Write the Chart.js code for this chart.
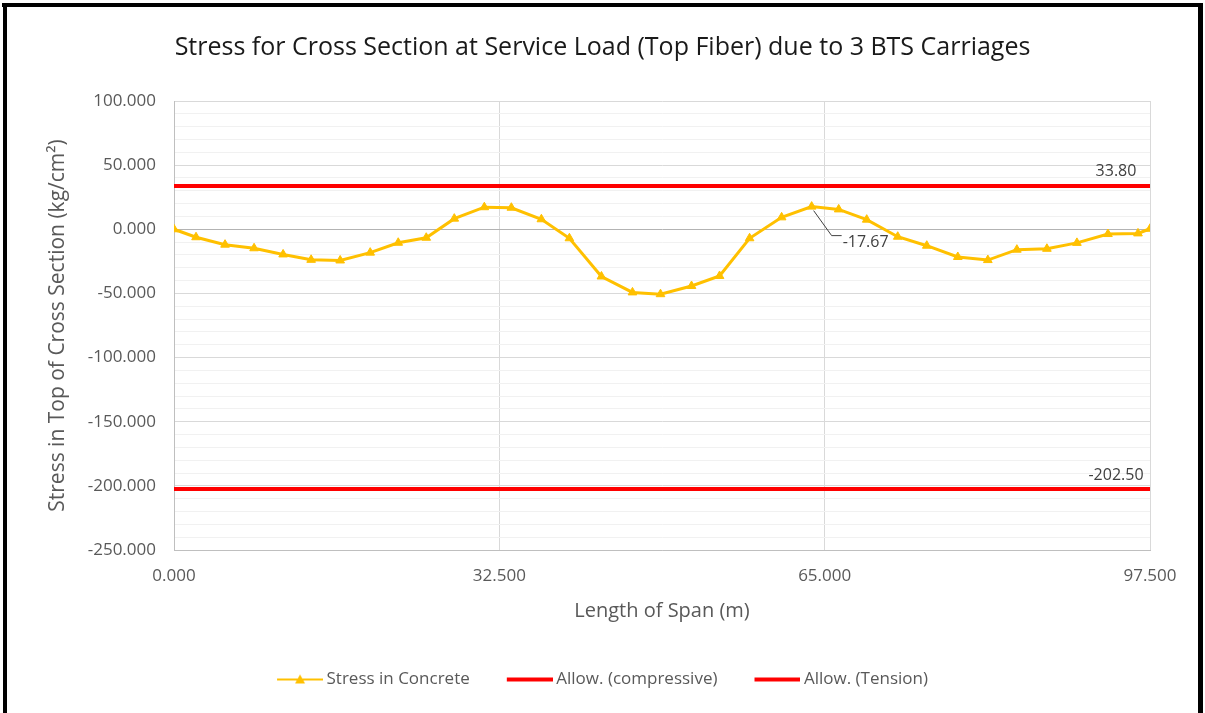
<!DOCTYPE html>
<html>
<head>
<meta charset="utf-8">
<title>Stress for Cross Section</title>
<script src="https://cdn.jsdelivr.net/npm/chart.js@4.4.1/dist/chart.umd.min.js"></script>
<style>
  body { margin: 0; background: #fff; }
  #wrap { width: 1205px; height: 713px; }
</style>
</head>
<body>
<div id="wrap"><canvas id="stressChart" width="1205" height="713"></canvas></div>
<script>
// span position (m) and top fiber stress (kg/cm2)
const spanX = [0, 2.2, 5.1, 8.0, 10.9, 13.7, 16.6, 19.6, 22.4, 25.2, 28.0, 31.0, 33.7, 36.7, 39.5,
  42.7, 45.8, 48.6, 51.7, 54.5, 57.5, 60.7, 63.7, 66.4, 69.2, 72.3, 75.2, 78.3, 81.3, 84.2,
  87.2, 90.2, 93.3, 96.3, 97.5];
const stressTop = [0, -6.2, -12, -14.8, -19.6, -23.8, -24.3, -18.2, -10.5, -6.6, 8.3, 17.2, 16.8, 7.8, -7.0,
  -36.8, -49.2, -50.6, -44.2, -36.4, -7.0, 9.3, 17.67, 15.5, 7.5, -5.8, -12.8, -21.6, -24.0, -15.9,
  -15.2, -10.6, -3.7, -3.2, 0.4];
const spanLimits = [0, 97.5];
const allowCompressive = [33.8, 33.8];
const allowTension = [-202.5, -202.5];
const xTickValues = [0, 32.5, 65, 97.5];
const seriesNames = ["Stress in Concrete", "Allow. (compressive)", "Allow. (Tension)"];
const limitLabels = ["33.80", "-202.50"];
const peakIndex = 22;
const peakLabel = "-17.67";

const FONT = "'Open Sans', 'DejaVu Sans', sans-serif";
const GREY = "#595959";
const ORANGE = "#FFC000";
const RED = "#FF0000";

const toPoints = (xs, ys) => xs.map((x, i) => ({ x: x, y: ys[i] }));

// legend icons: line (plus marker) drawn on the right part of a wider canvas
function legendIcon(color, width, marker) {
  const c = document.createElement("canvas");
  c.width = 80;
  c.height = 14;
  const ctx = c.getContext("2d");
  ctx.strokeStyle = color;
  ctx.lineWidth = width;
  ctx.beginPath();
  ctx.moveTo(34, 7);
  ctx.lineTo(80, 7);
  ctx.stroke();
  if (marker) {
    ctx.fillStyle = color;
    ctx.beginPath();
    ctx.moveTo(57, 2);
    ctx.lineTo(62, 11);
    ctx.lineTo(52, 11);
    ctx.closePath();
    ctx.fill();
  }
  return c;
}
const legendIcons = [legendIcon(ORANGE, 2, true), legendIcon(RED, 4, false), legendIcon(RED, 4, false)];

const framePlugin = {
  id: "frame",
  beforeDraw(chart) {
    const ctx = chart.ctx;
    ctx.save();
    ctx.fillStyle = "#fff";
    ctx.fillRect(0, 0, chart.width, chart.height);
    ctx.fillStyle = "#000";
    ctx.fillRect(2, 3, 1200, 4);
    ctx.fillRect(3, 3, 4, 710);
    ctx.fillRect(1198, 3, 5, 710);
    ctx.restore();
  },
};

const labelPlugin = {
  id: "valueLabels",
  afterLayout(chart) {
    // drop the empty lead-in of the first icon from the centring
    if (chart.legend && chart.legend.lineWidths) chart.legend.lineWidths[0] += 29;
  },
  afterDatasetsDraw(chart) {
    const ctx = chart.ctx;
    ctx.save();
    ctx.font = "16px " + FONT;
    ctx.fillStyle = "#404040";
    ctx.textBaseline = "middle";
    // limit line labels at the right end
    [1, 2].forEach((dsIndex, k) => {
      const pts = chart.getDatasetMeta(dsIndex).data;
      const last = pts[pts.length - 1];
      ctx.textAlign = "center";
      ctx.fillText(limitLabels[k], last.x - 34, last.y - 14);
    });
    // peak label with leader line
    const p = chart.getDatasetMeta(0).data[peakIndex];
    ctx.strokeStyle = "#404040";
    ctx.lineWidth = 1;
    ctx.beginPath();
    ctx.moveTo(p.x + 2, p.y + 4);
    ctx.lineTo(p.x + 20, p.y + 29);
    ctx.lineTo(p.x + 30, p.y + 29);
    ctx.stroke();
    ctx.textAlign = "left";
    ctx.fillText(peakLabel, p.x + 31, p.y + 36);
    ctx.restore();
  },
};

new Chart(document.getElementById("stressChart"), {
  type: "line",
  data: {
    datasets: [
      {
        label: seriesNames[0],
        data: toPoints(spanX, stressTop),
        borderColor: ORANGE,
        backgroundColor: ORANGE,
        borderWidth: 3,
        pointStyle: "triangle",
        pointRadius: 5,
        pointBorderWidth: 1,
        tension: 0,
      },
      {
        label: seriesNames[1],
        data: toPoints(spanLimits, allowCompressive),
        borderColor: RED,
        backgroundColor: RED,
        borderWidth: 4,
        pointRadius: 0,
      },
      {
        label: seriesNames[2],
        data: toPoints(spanLimits, allowTension),
        borderColor: RED,
        backgroundColor: RED,
        borderWidth: 4,
        pointRadius: 0,
      },
    ],
  },
  options: {
    responsive: false,
    animation: false,
    layout: { padding: { left: 55, right: 55, top: 0, bottom: 15 } },
    scales: {
      x: {
        type: "linear",
        min: 0,
        max: 97.5,
        afterBuildTicks: (scale) => {
          scale.ticks = xTickValues.map((v) => ({ value: v }));
        },
        afterFit: (scale) => {
          scale.height = 113;
        },
        ticks: {
          padding: 16,
          color: GREY,
          font: { family: FONT, size: 17 },
          maxRotation: 0,
          callback: (v) => Number(v).toFixed(3),
        },
        grid: { color: "#d9d9d9", drawTicks: false },
        border: { color: "#bfbfbf" },
        title: {
          display: true,
          text: "Length of Span (m)",
          color: GREY,
          font: { family: FONT, size: 20 },
          padding: { top: 0, bottom: 40 },
        },
      },
      y: {
        min: -250,
        max: 100,
        afterFit: (scale) => {
          scale.width = 119;
        },
        ticks: {
          stepSize: 10,
          padding: 18,
          autoSkip: false,
          color: GREY,
          font: { family: FONT, size: 17 },
          callback: (v) => (v % 50 === 0 ? Number(v).toFixed(3) : ""),
        },
        grid: {
          drawTicks: false,
          color: (c) => {
            const v = c.tick ? c.tick.value : 1;
            if (v === 0) return "#b3b3b3";
            return v % 50 === 0 ? "#d9d9d9" : "#f1f1f1";
          },
        },
        border: { color: "#bfbfbf" },
        title: {
          display: true,
          text: "Stress in Top of Cross Section (kg/cm²)",
          color: GREY,
          font: { family: FONT, size: 21 },
          padding: { top: -10, bottom: 0 },
        },
      },
    },
    plugins: {
      title: {
        display: true,
        text: "Stress for Cross Section at Service Load (Top Fiber) due to 3 BTS Carriages",
        color: "#1a1a1a",
        font: { family: FONT, size: 25, weight: "normal" },
        padding: { top: 33, bottom: 38 },
      },
      legend: {
        position: "bottom",
        labels: {
          usePointStyle: true,
          pointStyleWidth: 70,
          padding: 8,
          color: GREY,
          font: { family: FONT, size: 17 },
          generateLabels: (chart) => {
            const items = Chart.defaults.plugins.legend.labels.generateLabels(chart);
            items.forEach((item, i) => {
              item.pointStyle = legendIcons[i];
              item.fontColor = GREY;
            });
            return items;
          },
        },
      },
      tooltip: { enabled: false },
    },
  },
  plugins: [framePlugin, labelPlugin],
});
</script>
</body>
</html>
